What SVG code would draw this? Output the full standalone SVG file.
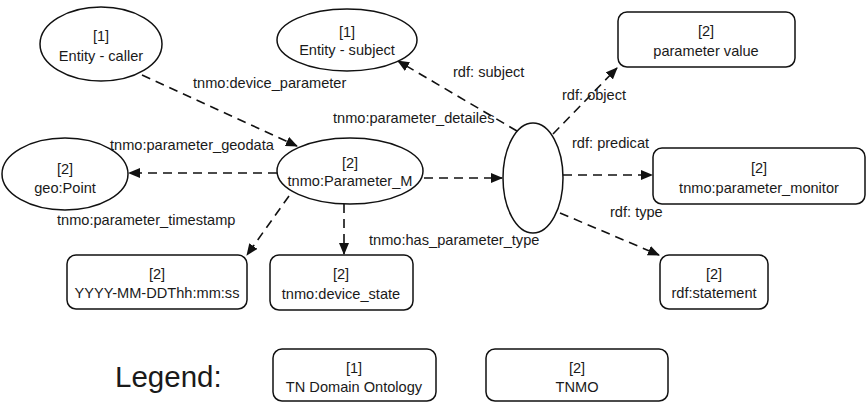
<svg xmlns="http://www.w3.org/2000/svg" width="868" height="403" viewBox="0 0 868 403">
<defs>
<marker id="ah" markerWidth="12" markerHeight="10" refX="11" refY="5" orient="auto" markerUnits="userSpaceOnUse">
<path d="M0,0 L12,5 L0,10 Z" fill="#111"/>
</marker>
<style>
.n{fill:#fff;stroke:#111;stroke-width:1.5}
.t{font-family:"Liberation Sans",Arial,sans-serif;font-size:14.6px;fill:#1a1a1a;text-anchor:middle}
.l{font-family:"Liberation Sans",Arial,sans-serif;font-size:14.6px;fill:#1a1a1a}
.c{fill:none;stroke:#111;stroke-width:1.6;stroke-dasharray:9,6;marker-end:url(#ah)}
</style>
</defs>
<rect width="868" height="403" fill="#fff"/>
<g id="connectors">
<line class="c" x1="142" y1="75" x2="297" y2="146"/>
<line class="c" x1="277" y1="173" x2="129" y2="173"/>
<line class="c" x1="517" y1="131" x2="398" y2="61"/>
<line class="c" x1="424" y1="178" x2="502" y2="178"/>
<line class="c" x1="553" y1="134" x2="617" y2="68"/>
<line class="c" x1="563" y1="175" x2="652" y2="175"/>
<line class="c" x1="560" y1="213" x2="659" y2="255"/>
<line class="c" x1="344" y1="204" x2="344" y2="254"/>
<line class="c" x1="289" y1="196" x2="247" y2="255"/>
</g>
<g id="labels">
<text class="l" x="193" y="88">tnmo:device_parameter</text>
<text class="l" x="110" y="150">tnmo:parameter_geodata</text>
<text class="l" x="333" y="123">tnmo:parameter_detailes</text>
<text class="l" x="453" y="77">rdf: subject</text>
<text class="l" x="562" y="100">rdf: object</text>
<text class="l" x="572" y="148">rdf: predicat</text>
<text class="l" x="610" y="217">rdf: type</text>
<text class="l" x="57" y="225">tnmo:parameter_timestamp</text>
<text class="l" x="369" y="245">tnmo:has_parameter_type</text>
</g>
<g id="entity-caller">
<ellipse class="n" cx="101" cy="44" rx="61" ry="37"/>
<text class="t" x="101" y="41">[1]</text>
<text class="t" x="101" y="61">Entity - caller</text>
</g>
<g id="entity-subject">
<ellipse class="n" cx="347" cy="40" rx="70" ry="31"/>
<text class="t" x="347" y="37">[1]</text>
<text class="t" x="347" y="55">Entity - subject</text>
</g>
<g id="geo-point">
<ellipse class="n" cx="65" cy="174" rx="63" ry="36"/>
<text class="t" x="65" y="174">[2]</text>
<text class="t" x="65" y="193">geo:Point</text>
</g>
<g id="parameter-m">
<ellipse class="n" cx="350" cy="171" rx="73" ry="33"/>
<text class="t" x="350" y="168">[2]</text>
<text class="t" x="350" y="186">tnmo:Parameter_M</text>
</g>
<g id="statement-node">
<ellipse class="n" cx="533" cy="178" rx="30" ry="55"/>
</g>
<g id="parameter-value">
<rect class="n" x="618" y="12" width="177" height="55" rx="9"/>
<text class="t" x="706" y="36">[2]</text>
<text class="t" x="706" y="56">parameter value</text>
</g>
<g id="parameter-monitor">
<rect class="n" x="653" y="148" width="212" height="56" rx="9"/>
<text class="t" x="759" y="173">[2]</text>
<text class="t" x="759" y="193">tnmo:parameter_monitor</text>
</g>
<g id="rdf-statement">
<rect class="n" x="660" y="255" width="108" height="54" rx="9"/>
<text class="t" x="714" y="279">[2]</text>
<text class="t" x="714" y="298">rdf:statement</text>
</g>
<g id="timestamp">
<rect class="n" x="67" y="255" width="180" height="54" rx="9"/>
<text class="t" x="157" y="279">[2]</text>
<text class="t" x="157" y="298">YYYY-MM-DDThh:mm:ss</text>
</g>
<g id="device-state">
<rect class="n" x="270" y="255" width="143" height="55" rx="9"/>
<text class="t" x="341" y="279">[2]</text>
<text class="t" x="341" y="299">tnmo:device_state</text>
</g>
<g id="legend">
<text x="115" y="387" style="font-family:'Liberation Sans',Arial,sans-serif;font-size:29.5px;fill:#1a1a1a">Legend:</text>
<g id="legend-1">
<rect class="n" x="273" y="349" width="163" height="52" rx="9"/>
<text class="t" x="354" y="373">[1]</text>
<text class="t" x="354" y="392">TN Domain Ontology</text>
</g>
<g id="legend-2">
<rect class="n" x="486" y="349" width="182" height="52" rx="9"/>
<text class="t" x="577" y="373">[2]</text>
<text class="t" x="577" y="392">TNMO</text>
</g>
</g>
</svg>
